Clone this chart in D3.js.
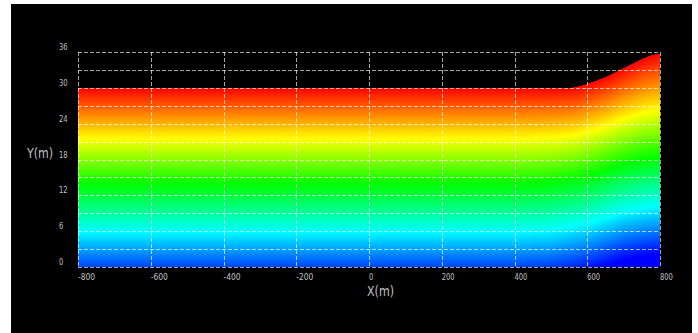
<!DOCTYPE html>
<html>
<head>
<meta charset="utf-8">
<script src="https://cdn.jsdelivr.net/npm/d3@7"></script>
<style>
  html, body { margin: 0; padding: 0; background: #fff; }
  svg { display: block; }
</style>
</head>
<body>
<div id="chart"></div>
<script>
// Free surface profile: x (m) and water level (m)
const surfaceX = [-800, 500, 540, 560, 580, 600, 620, 645, 665, 685, 708, 730, 750, 770, 790, 800];
const surfaceY = [30, 30, 30.01, 30.05, 30.3, 30.7, 31.1, 31.65, 32.2, 32.85, 33.55, 34.2, 34.8, 35.3, 35.65, 35.75];

// Pressure head at the bottom (y = 0)
const bottomX = [-800, 400, 500, 560, 600, 650, 700, 750, 800];
const bottomHead = [29.9, 29.9, 30.2, 30.8, 31.3, 32.2, 33.2, 33.8, 34.2];

// Colour bar: head below the surface -> colour
const headStops = [0, 8.5, 16, 24, 32];
const headColors = ['#ff0000', '#ffff00', '#00ff00', '#00ffff', '#0000ff'];

const xTicks = [-800, -600, -400, -200, 0, 200, 400, 600, 800];
const yTicks = [0, 6, 12, 18, 24, 30, 36];
const yGrid = [0, 3, 6, 9, 12, 15, 18, 21, 24, 27, 30, 33, 36];

const W = 698, H = 333;
const plot = { left: 78, right: 660, top: 52, bottom: 267 };

const x = d3.scaleLinear().domain([-800, 800]).range([plot.left, plot.right]);
const y = d3.scaleLinear().domain([0, 36]).range([plot.bottom, plot.top]);

const surface = d3.scaleLinear().domain(surfaceX).range(surfaceY).clamp(true);
const bottom = d3.scaleLinear().domain(bottomX).range(bottomHead).clamp(true);
const color = d3.scaleLinear().domain(headStops).range(headColors).clamp(true);

// Draw the field into an offscreen canvas
const cw = plot.right - plot.left, ch = plot.bottom - plot.top;
const canvas = document.createElement('canvas');
canvas.width = cw;
canvas.height = ch;
const ctx = canvas.getContext('2d');
const img = ctx.createImageData(cw, ch);
for (let i = 0; i < cw; i++) {
  const xv = x.invert(plot.left + i + 0.5);
  const eta = surface(xv);
  const hb = bottom(xv);
  for (let j = 0; j < ch; j++) {
    const yv = y.invert(plot.top + j + 0.5);
    if (yv > eta) continue;
    const t = Math.pow(yv / eta, 3);
    const level = hb + (eta - hb) * t;
    const c = d3.rgb(color(level - yv));
    const k = 4 * (j * cw + i);
    img.data[k] = c.r;
    img.data[k + 1] = c.g;
    img.data[k + 2] = c.b;
    img.data[k + 3] = 255;
  }
}
ctx.putImageData(img, 0, 0);

const svg = d3.select('#chart').append('svg')
  .attr('width', W)
  .attr('height', H);

svg.append('rect')
  .attr('x', 11).attr('y', 4)
  .attr('width', 681).attr('height', 329)
  .attr('fill', '#000');

svg.append('image')
  .attr('x', plot.left).attr('y', plot.top)
  .attr('width', cw).attr('height', ch)
  .attr('href', canvas.toDataURL());

// Dashed grid
const grid = svg.append('g')
  .attr('stroke', '#fff')
  .attr('stroke-opacity', 0.65)
  .attr('stroke-dasharray', '4,2')
  .attr('shape-rendering', 'crispEdges');

grid.selectAll('.gx').data(xTicks).enter().append('line')
  .attr('x1', d => Math.round(x(d)) + 0.5).attr('x2', d => Math.round(x(d)) + 0.5)
  .attr('y1', plot.top).attr('y2', plot.bottom);

grid.selectAll('.gy').data(yGrid).enter().append('line')
  .attr('x1', plot.left).attr('x2', plot.right)
  .attr('y1', d => Math.round(y(d)) + 0.5).attr('y2', d => Math.round(y(d)) + 0.5);

// Tick labels (narrow bitmap-like look)
const labelFont = '"DejaVu Sans", sans-serif';

svg.append('g').selectAll('text').data(yTicks).enter().append('text')
  .attr('x', 59)
  .attr('y', d => y(d) - 5)
  .attr('dy', '0.35em')
  .attr('fill', '#c0c0c0')
  .attr('font-family', labelFont)
  .attr('font-size', 9)
  .attr('textLength', d => String(d).length * 4.3)
  .attr('lengthAdjust', 'spacingAndGlyphs')
  .text(d => d);

svg.append('g').selectAll('text').data(xTicks).enter().append('text')
  .attr('x', d => x(d))
  .attr('y', 277)
  .attr('dy', '0.35em')
  .attr('fill', '#c0c0c0')
  .attr('font-family', labelFont)
  .attr('font-size', 9)
  .attr('textLength', d => String(d).length * 4.3)
  .attr('lengthAdjust', 'spacingAndGlyphs')
  .text(d => d);

// Axis titles
svg.append('text')
  .attr('x', 27).attr('y', 153).attr('dy', '0.35em')
  .attr('fill', '#c0c0c0')
  .attr('font-family', labelFont)
  .attr('font-size', 14)
  .attr('textLength', 26)
  .attr('lengthAdjust', 'spacingAndGlyphs')
  .text('Y(m)');

svg.append('text')
  .attr('x', 367).attr('y', 291).attr('dy', '0.35em')
  .attr('fill', '#c0c0c0')
  .attr('font-family', labelFont)
  .attr('font-size', 14)
  .attr('textLength', 27)
  .attr('lengthAdjust', 'spacingAndGlyphs')
  .text('X(m)');
</script>
</body>
</html>
